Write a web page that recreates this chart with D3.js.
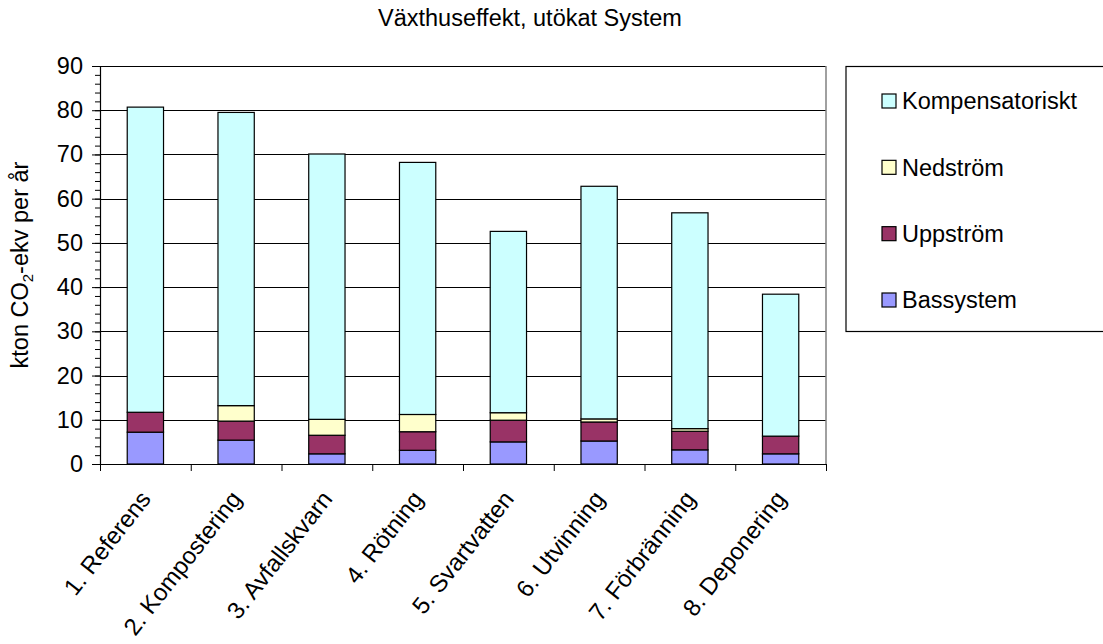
<!DOCTYPE html>
<html>
<head>
<meta charset="utf-8">
<script src="https://cdn.jsdelivr.net/npm/d3@7"></script>
<style>
  html, body { margin: 0; padding: 0; background: #fff; }
  svg text { font-family: "Liberation Sans", Arial, sans-serif; fill: #000; }
</style>
</head>
<body>
<svg id="chart" width="1103" height="644"></svg>
<script>
// Greenhouse effect per scenario, kton CO2-eq per year, stacked by source
const categories = ["1. Referens", "2. Kompostering", "3. Avfallskvarn", "4. Rötning",
                    "5. Svartvatten", "6. Utvinning", "7. Förbränning", "8. Deponering"];
const seriesNames = ["Bassystem", "Uppström", "Nedström", "Kompensatoriskt"];
const bassystem       = [7.2, 5.4, 2.3, 3.1, 5.0, 5.2, 3.2, 2.3];
const uppstrom        = [4.5, 4.3, 4.2, 4.2, 4.9, 4.3, 4.2, 4.0];
const nedstrom        = [0.0, 3.5, 3.6, 3.9, 1.7, 0.7, 0.6, 0.0];
const kompensatoriskt = [69.0, 66.3, 60.0, 57.0, 41.0, 52.6, 48.8, 32.1];
const yTicks = [0, 10, 20, 30, 40, 50, 60, 70, 80, 90];
const yMinorTicks = d3.range(0, 91, 2);
const colors = { "Bassystem": "#9999FF", "Uppström": "#993366", "Nedström": "#FFFFCC", "Kompensatoriskt": "#CCFFFF" };

const seriesValues = { "Bassystem": bassystem, "Uppström": uppstrom, "Nedström": nedstrom, "Kompensatoriskt": kompensatoriskt };
const table = categories.map((c, i) => {
  const row = { cat: c };
  seriesNames.forEach(s => row[s] = seriesValues[s][i]);
  return row;
});

const svg = d3.select("#chart");
const plot = { left: 100, right: 826, top: 66, bottom: 464 };
const FONT = 23.5;

const x = d3.scaleBand().domain(categories).range([plot.left, plot.right])
  .paddingInner(0.6).paddingOuter(0.3);
const y = d3.scaleLinear().domain([0, 90]).range([plot.bottom, plot.top]);

// Title
svg.append("text").attr("x", 530).attr("y", 26).attr("text-anchor", "middle")
  .style("font-size", FONT + "px").text("Växthuseffekt, utökat System");

// Horizontal gridlines
svg.append("g").attr("transform", `translate(${plot.left},0)`)
  .call(d3.axisLeft(y).tickValues(yTicks.slice(1)).tickSize(-(plot.right - plot.left)).tickFormat(""))
  .call(g => g.select(".domain").remove())
  .call(g => g.selectAll("line").attr("stroke", "#000").attr("stroke-width", 1).attr("shape-rendering", "crispEdges"));

// Plot frame (right side)
svg.append("line").attr("x1", plot.right).attr("x2", plot.right).attr("y1", plot.top).attr("y2", plot.bottom)
  .attr("stroke", "#808080").attr("stroke-width", 1.5);

// Stacked bars
const stack = d3.stack().keys(seriesNames);
const layers = stack(table);
svg.append("g").selectAll("g").data(layers).join("g")
  .attr("fill", d => colors[d.key])
  .selectAll("rect").data(d => d).join("rect")
  .attr("x", d => x(d.data.cat))
  .attr("width", x.bandwidth())
  .attr("y", d => y(d[1]))
  .attr("height", d => y(d[0]) - y(d[1]))
  .attr("stroke", "#000").attr("stroke-width", 1.2);

// Y axis with minor ticks
svg.append("g").attr("transform", `translate(${plot.left},0)`)
  .call(d3.axisLeft(y).tickValues(yMinorTicks).tickSize(5).tickFormat(""))
  .call(g => g.select(".domain").remove())
  .call(g => g.selectAll("line").attr("stroke", "#000"));
svg.append("g").attr("transform", `translate(${plot.left},0)`)
  .call(d3.axisLeft(y).tickValues(yTicks).tickSize(8).tickPadding(9).tickSizeOuter(0))
  .call(g => g.select(".domain").attr("stroke", "#000").attr("stroke-width", 1.2))
  .call(g => g.selectAll("line").attr("stroke", "#000"))
  .call(g => g.selectAll("text").style("font-size", FONT + "px").attr("font-family", null).attr("fill", "#000"));

// X axis: ticks at category boundaries
const xBounds = d3.scaleLinear().domain([0, categories.length]).range([plot.left, plot.right]);
svg.append("g").attr("transform", `translate(0,${plot.bottom})`)
  .call(d3.axisBottom(xBounds).tickValues(d3.range(0, categories.length + 1)).tickSize(7).tickFormat("").tickSizeOuter(0))
  .call(g => g.select(".domain").attr("stroke", "#000").attr("stroke-width", 1.2))
  .call(g => g.selectAll("line").attr("stroke", "#000"));

// Rotated category labels
svg.append("g").selectAll("text").data(categories).join("text")
  .attr("transform", d => `translate(${x(d) + x.bandwidth() / 2},494) rotate(-52)`)
  .attr("text-anchor", "end").attr("dy", "0.35em")
  .style("font-size", "24px").text(d => d);

// Y axis title with subscript
const yt = svg.append("text")
  .attr("transform", `translate(28,${(plot.top + plot.bottom) / 2}) rotate(-90)`)
  .attr("text-anchor", "middle").style("font-size", FONT + "px");
yt.append("tspan").text("kton CO");
yt.append("tspan").attr("dy", 5).style("font-size", "15px").text("2");
yt.append("tspan").attr("dy", -5).text("-ekv per år");

// Legend
const legend = svg.append("g");
legend.append("rect").attr("x", 846).attr("y", 66.5).attr("width", 270).attr("height", 265)
  .attr("fill", "#fff").attr("stroke", "#000").attr("stroke-width", 1.2);
const legendOrder = ["Kompensatoriskt", "Nedström", "Uppström", "Bassystem"];
const ly = d3.scalePoint().domain(legendOrder).range([101, 300]);
const items = legend.selectAll("g.item").data(legendOrder).join("g").attr("class", "item")
  .attr("transform", d => `translate(0,${ly(d)})`);
items.append("rect").attr("x", 882).attr("y", -7).attr("width", 14).attr("height", 14)
  .attr("fill", d => colors[d]).attr("stroke", "#000").attr("stroke-width", 1.2);
items.append("text").attr("x", 902).attr("dy", "0.35em").style("font-size", FONT + "px").text(d => d);
</script>
</body>
</html>
